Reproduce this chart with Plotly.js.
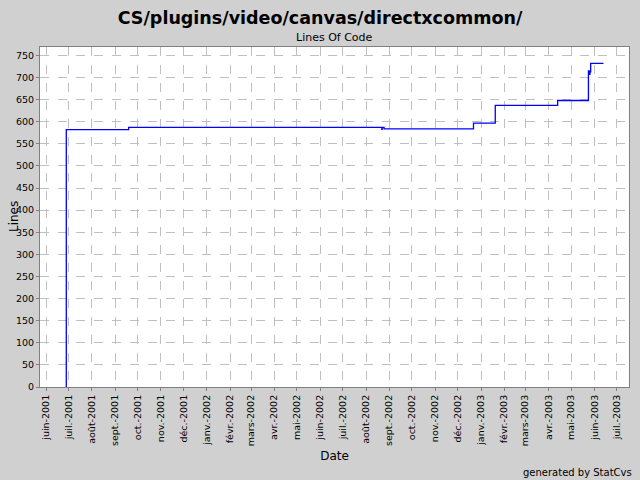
<!DOCTYPE html>
<html>
<head>
<meta charset="utf-8">
<script src="https://cdn.plot.ly/plotly-3.0.1.min.js"></script>
<style>html,body{margin:0;padding:0;background:#d0d0d0;}#chart{width:640px;height:480px;}</style>
</head>
<body>
<div id="chart"></div>
<script>
// Lines of code over time (step series)
const dates = ["2001-06-28","2001-06-28","2001-09-19","2002-08-22","2002-08-22 12:00","2002-08-25","2002-12-22","2003-01-20","2003-04-13","2003-05-24","2003-05-25","2003-05-26","2003-05-27","2003-06-13"];
const lines = [0,582,587,583,587,584,597,637,648,715,707,713,732,732];

// Month tick positions and French labels
const tickDates = ["2001-06-01","2001-07-01","2001-08-01","2001-09-01","2001-10-01","2001-11-01","2001-12-01","2002-01-01","2002-02-01","2002-03-01","2002-04-01","2002-05-01","2002-06-01","2002-07-01","2002-08-01","2002-09-01","2002-10-01","2002-11-01","2002-12-01","2003-01-01","2003-02-01","2003-03-01","2003-04-01","2003-05-01","2003-06-01","2003-07-01"];
const tickLabels = ["juin-2001","juil.-2001","août-2001","sept.-2001","oct.-2001","nov.-2001","déc.-2001","janv.-2002","févr.-2002","mars-2002","avr.-2002","mai-2002","juin-2002","juil.-2002","août-2002","sept.-2002","oct.-2002","nov.-2002","déc.-2002","janv.-2003","févr.-2003","mars-2003","avr.-2003","mai-2003","juin-2003","juil.-2003"];
const yTicks = [0,50,100,150,200,250,300,350,400,450,500,550,600,650,700,750];

const font = "DejaVu Sans, sans-serif";
const trace = {
  x: dates, y: lines, type: "scatter", mode: "lines",
  line: {shape: "hv", color: "#0000ff", width: 1.3},
  hoverinfo: "skip"
};
const layout = {
  width: 640, height: 480,
  paper_bgcolor: "#d0d0d0", plot_bgcolor: "#ffffff",
  margin: {l: 40, r: 11, t: 47, b: 93},
  showlegend: false,
  font: {family: font, size: 11, color: "#000"},
  title: {text: "<b>CS/plugins/video/canvas/directxcommon/</b>", x: 0.5, xanchor: "center", y: 0.962, yanchor: "middle", font: {family: font, size: 17.5, color: "#000"}},
  annotations: [
    {text: "Lines Of Code", xref: "paper", yref: "paper", x: 0.5, y: 1, yshift: 1, xanchor: "center", yanchor: "bottom", showarrow: false, font: {family: font, size: 11, color: "#000"}},
    {text: "Lines", xref: "paper", yref: "paper", x: 0, y: 0.5, xshift: -26, textangle: -90, xanchor: "center", yanchor: "middle", showarrow: false, font: {family: font, size: 12, color: "#000"}},
    {text: "generated by StatCvs", xref: "paper", yref: "paper", x: 1, y: 0, xshift: 5, yshift: -85, xanchor: "right", yanchor: "middle", showarrow: false, font: {family: font, size: 10, color: "#000"}}
  ],
  xaxis: {
    type: "date",
    range: ["2001-05-24", "2003-07-17"],
    tickmode: "array", tickvals: tickDates, ticktext: tickLabels,
    tickangle: -90, ticks: "outside", ticklen: 3, tickcolor: "#808080",
    tickfont: {family: font, size: 9.5},
    showgrid: true, gridcolor: "#c0c0c0", griddash: "dash", gridwidth: 1,
    showline: true, linecolor: "#808080", linewidth: 1, mirror: true,
    zeroline: false,
    title: {text: "Date", font: {family: font, size: 12}, standoff: 6}
  },
  yaxis: {
    range: [0, 769],
    tickmode: "array", tickvals: yTicks,
    ticks: "outside", ticklen: 3, tickcolor: "#808080",
    tickfont: {family: font, size: 9.5},
    showgrid: true, gridcolor: "#c0c0c0", griddash: "dash", gridwidth: 1,
    showline: true, linecolor: "#808080", linewidth: 1, mirror: true,
    zeroline: false
  }
};
Plotly.newPlot("chart", [trace], layout, {displayModeBar: false, staticPlot: true});
</script>
</body>
</html>
